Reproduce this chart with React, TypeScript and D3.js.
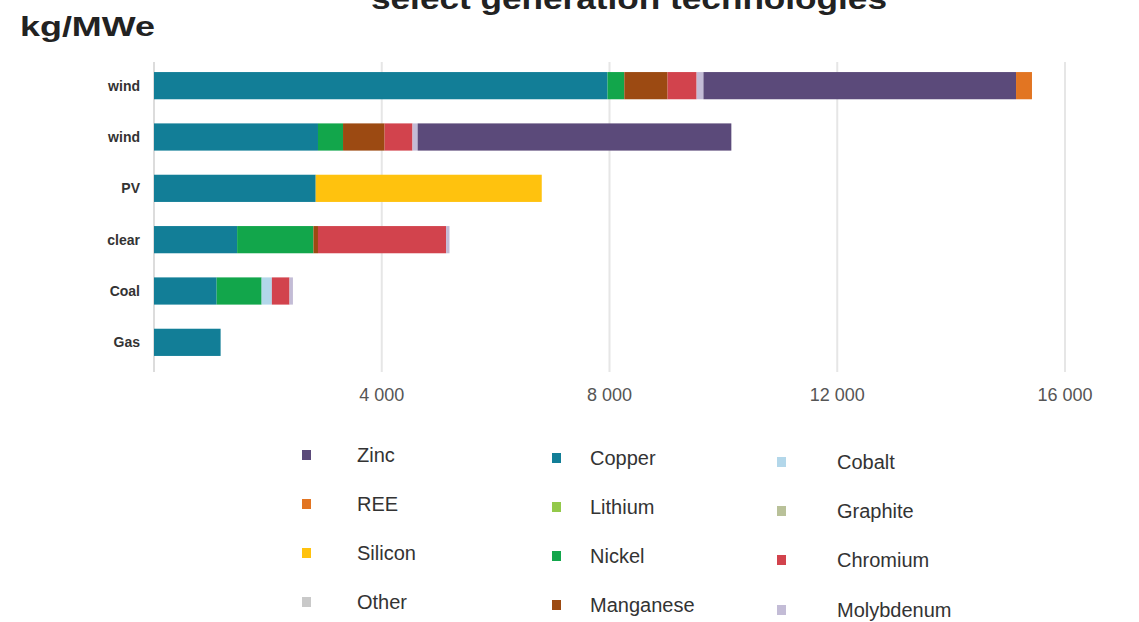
import React from "react";
import * as d3 from "d3";

const categories = ["wind", "wind", "PV", "clear", "Coal", "Gas"];
const copper = [7965, 2880, 2840, 1460, 1100, 1170];
const nickel = [295, 440, 0, 1340, 790, 0];
const manganese = [760, 730, 0, 80, 0, 0];
const cobalt = [0, 0, 0, 0, 180, 0];
const chromium = [510, 490, 0, 2250, 310, 0];
const molybdenum = [120, 90, 0, 60, 60, 0];
const zinc = [5490, 5510, 0, 0, 0, 0];
const ree = [280, 0, 0, 0, 0, 0];
const silicon = [0, 0, 3970, 0, 0, 0];
const xTicks = [4000, 8000, 12000, 16000];

const seriesNames = ["Copper", "Nickel", "Manganese", "Cobalt", "Chromium", "Molybdenum", "Zinc", "REE", "Silicon"];
const seriesValues = [copper, nickel, manganese, cobalt, chromium, molybdenum, zinc, ree, silicon];

const legendCols = [
  ["Zinc", "REE", "Silicon", "Other"],
  ["Copper", "Lithium", "Nickel", "Manganese"],
  ["Cobalt", "Graphite", "Chromium", "Molybdenum"],
];

const colors: Record<string, string> = {
  Zinc: "#5b4a7a",
  REE: "#e27522",
  Silicon: "#ffc20e",
  Other: "#c9c9c9",
  Copper: "#127e97",
  Lithium: "#93c94a",
  Nickel: "#12a64b",
  Manganese: "#9c4a12",
  Cobalt: "#b3d7ea",
  Graphite: "#b9c199",
  Chromium: "#d2434d",
  Molybdenum: "#c3bcd6",
};

export default function App() {
  const W = 1139, H = 622;
  const x = d3.scaleLinear().domain([0, 16000]).range([154, 1065]);
  const y = d3
    .scaleBand<number>()
    .domain(categories.map((_, i) => i))
    .range([60, 368])
    .paddingInner(0.47)
    .paddingOuter(0.235);

  const rows = categories.map((_, i) => {
    const o: Record<string, number> = {};
    seriesNames.forEach((s, k) => (o[s] = seriesValues[k][i]));
    return o;
  });
  const stack = d3.stack<Record<string, number>>().keys(seriesNames)(rows);

  const fmt = (v: number) => d3.format(",")(v).replace(/,/g, " ");
  const colX = [306, 556, 781];
  const colLabelX = [357, 590, 837];
  const colY0 = [455, 458, 462];
  const rowStep = 49;

  return (
    <svg width={W} height={H} style={{ position: "absolute", left: 0, top: 0, background: "#fff" }} fontFamily="Liberation Sans, Arial, sans-serif">
      <text x={629} y={9} textAnchor="middle" fontSize={30} fontWeight="bold" fill="#222" textLength={516} lengthAdjust="spacingAndGlyphs">
        select generation technologies
      </text>
      <text x={20} y={36} fontSize={28} fontWeight="bold" fill="#222" textLength={135} lengthAdjust="spacingAndGlyphs">
        kg/MWe
      </text>
      {xTicks.map((t) => (
        <line key={t} x1={x(t)} x2={x(t)} y1={62} y2={372} stroke="#e6e6e6" strokeWidth={2} />
      ))}
      <line x1={x(0)} x2={x(0)} y1={62} y2={372} stroke="#dcdcdc" strokeWidth={2} />
      {stack.map((layer) => (
        <g key={layer.key} fill={colors[layer.key]}>
          {layer.map((d, i) =>
            d[1] - d[0] > 0 ? (
              <rect key={i} x={x(d[0])} y={y(i)} width={x(d[1]) - x(d[0])} height={y.bandwidth()} />
            ) : null
          )}
        </g>
      ))}
      {categories.map((c, i) => (
        <text key={i} x={140} y={(y(i) as number) + y.bandwidth() / 2 + 5} textAnchor="end" fontSize={14} fontWeight="bold" fill="#333">
          {c}
        </text>
      ))}
      {xTicks.map((t) => (
        <text key={t} x={x(t)} y={401} textAnchor="middle" fontSize={18} fill="#555">
          {fmt(t)}
        </text>
      ))}
      {legendCols.map((col, ci) =>
        col.map((name, ri) => {
          const cy = colY0[ci] + ri * rowStep + (ci === 2 && ri === 3 ? 1 : 0);
          return (
            <g key={name}>
              <rect x={colX[ci] - 4} y={cy - 5} width={9} height={10} fill={colors[name]} />
              <text x={colLabelX[ci]} y={cy + 7} fontSize={20} fill="#333">
                {name}
              </text>
            </g>
          );
        })
      )}
    </svg>
  );
}
